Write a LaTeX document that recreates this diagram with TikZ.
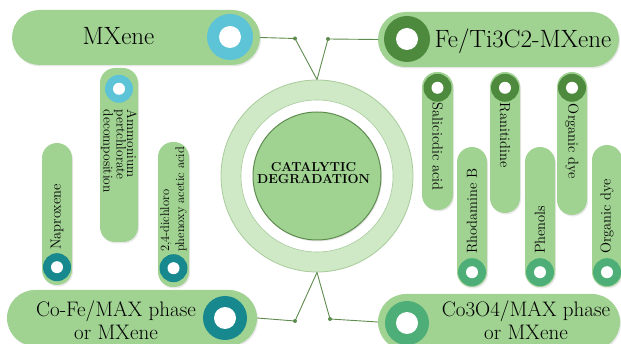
\documentclass[tikz,border=0pt]{standalone}
\usetikzlibrary{shadows}
\definecolor{pillgreen}{HTML}{A0D292}
\definecolor{ringgreen}{HTML}{CFE8C5}
\definecolor{ringedge}{HTML}{A8CB9C}
\definecolor{linegreen}{HTML}{5E8C4F}
\definecolor{skyblue}{HTML}{5CC4D6}
\definecolor{leafgreen}{HTML}{4E8A3E}
\definecolor{tealc}{HTML}{17898E}
\definecolor{mintgreen}{HTML}{4DAF77}
\begin{document}
\begin{tikzpicture}[x=1pt, y=-1pt, line join=round, line cap=round,
	pill/.style={fill=pillgreen, inner sep=0pt, rounded corners=#1, drop shadow={opacity=.18, shadow xshift=1pt, shadow yshift=-1.5pt}},
	bdot/.style={circle, fill=#1, inner sep=0pt, minimum size=46pt, path picture={\fill[white] (path picture bounding box.center) circle (11pt);}},
	sdot/.style={circle, fill=#1, inner sep=0pt, minimum size=28pt, path picture={\fill[white] (path picture bounding box.center) circle (6pt);}},
	conn/.style={draw=linegreen, line width=.9pt},
	lbl/.style={inner sep=0pt, text=black, font=\fontsize{14.5}{15}\selectfont},
	bigtxt/.style={inner sep=0pt, text=black, align=center, font=\fontsize{#1}{23}\selectfont}]
	\useasboundingbox (0,0) rectangle (621,344);
	\node[pill=27.5pt, minimum width=248pt, minimum height=55pt] (mx) at (136,37.5) {};
	\node[pill=27.5pt, minimum width=241pt, minimum height=55pt] (fe) at (498.5,39.5) {};
	\node[pill=28pt, minimum width=250pt, minimum height=56pt] (cf) at (132,318) {};
	\node[pill=28pt, minimum width=242pt, minimum height=56pt] (co) at (499,322) {};
	\foreach \n/\x/\y/\w/\h in {amm/119/155/38/174, nap/57/214/30/142, dic/173.5/214.5/31/145, sal/437.5/141/31/138, ran/505/142.5/30/141, orga/572/143.5/30/143, rho/472/217/30/140, phe/540/217/30/140, orgb/607/216/30/142}
		\node[pill=15pt, minimum width=\w pt, minimum height=\h pt] (\n) at (\x,\y) {};
	\node[circle, fill=ringgreen, draw=ringedge, line width=.8pt, minimum size=192pt, inner sep=0pt] (ring) at (317,176) {};
	\fill[white, draw=ringedge, line width=.6pt] (ring.center) circle (76pt);
	\node[circle, fill=pillgreen, draw=linegreen, line width=1pt, minimum size=128pt, inner sep=0pt, drop shadow={opacity=.18, shadow xshift=1pt, shadow yshift=-1.5pt}] (deg) at (ring.center) {};
	\node[font=\fontsize{13}{12}\selectfont\bfseries, align=center, text=black, inner sep=0pt] (degt) at (313.5,173.5) {CATALYTIC\\DEGRADATION};
	\path (295,38.5) coordinate (p1)
	(328,39) coordinate (p2)
	(295,321) coordinate (p3)
	(330,319) coordinate (p4);
	\draw[conn] (mx.east) -- (p1) -- (ring.north) -- (p2) -- (fe.west);
	\draw[conn] (cf.east) -- (p3) -- (ring.south) -- (p4) -- (co.west);
	\foreach \p in {p1,p2,p3,p4}
		\fill[linegreen] (\p) circle (2pt);
	\node[bdot=skyblue] (mxd) at (230,37) {};
	\node[bdot=leafgreen] (fed) at (407,39) {};
	\node[bdot=tealc, minimum size=44pt] (cfd) at (225,318) {};
	\node[bdot=mintgreen, minimum size=44pt] (cod) at (407,323) {};
	\foreach \n/\c/\s in {amm/skyblue/21, sal/leafgreen/16, ran/leafgreen/16, orga/leafgreen/16}
		\node[sdot=\c] (\n-dot) at ([yshift=-\s pt]\n.north) {};
	\foreach \n/\c/\s in {nap/tealc/18, dic/tealc/19, rho/mintgreen/15, phe/mintgreen/15, orgb/mintgreen/15}
		\node[sdot=\c] (\n-dot) at ([yshift=\s pt]\n.south) {};
	\node[bigtxt=25, anchor=base] (mxt) at (118.5,44.5) {MXene};
	\node[bigtxt=25, anchor=base] (fet) at (523,48) {Fe/Ti3C2-MXene};
	\node[bigtxt=21] (cft) at (116,320) {Co-Fe/MAX phase\\or MXene};
	\node[bigtxt=21] (cot) at (526,320) {Co3O4/MAX phase\\or MXene};
	\foreach \n/\t/\s in {sal/Salicicdic acid/31, ran/Ranitidine/31, orga/Organic dye/32}
		\node[lbl, rotate=-90, anchor=west] (\n-t) at ([yshift=-\s pt]\n.north) {\t};
	\foreach \n/\t/\s in {nap/Naproxene/35, rho/Rhodamine B/33, phe/Phenols/33, orgb/Organic dye/33}
		\node[lbl, rotate=90, anchor=west] (\n-t) at ([yshift=\s pt]\n.south) {\t};
	\node[lbl, rotate=-90, anchor=west, align=left, font=\fontsize{13.5}{10.5}\selectfont] (amm-t) at ([yshift=-42pt]amm.north) {Ammonium\\pertchlorate\\decomposition};
	\node[lbl, rotate=90, anchor=west, align=left, font=\fontsize{12.5}{15}\selectfont] (dic-t) at ([yshift=35pt]dic.south) {2,4-dichloro\\phenoxy acetic acid};
\end{tikzpicture}
\end{document}
